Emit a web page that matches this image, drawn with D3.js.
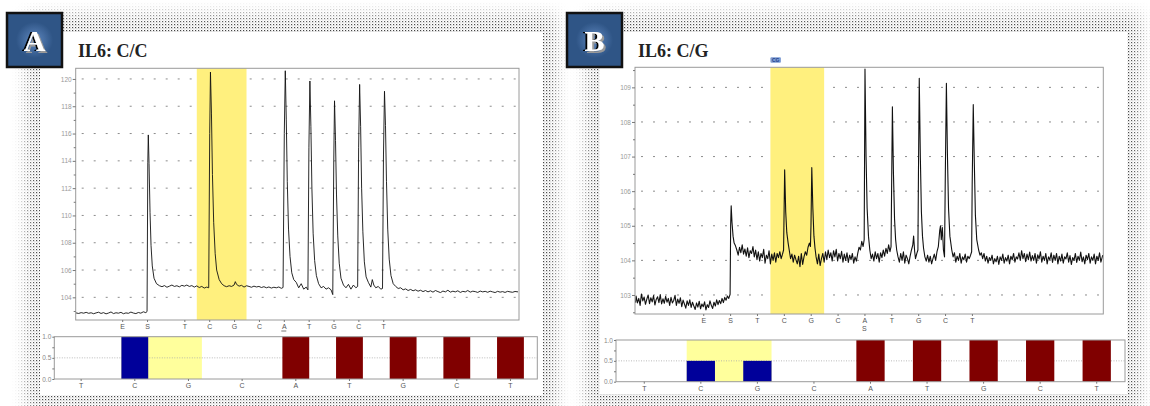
<!DOCTYPE html>
<html><head><meta charset="utf-8">
<script src="https://cdn.jsdelivr.net/npm/d3@7"></script>
<style>body{margin:0;background:#fff}svg{display:block}</style>
</head><body>
<svg id="c" width="1150" height="406"></svg>
<script>
// ---------------- DATA ----------------
const panelLetters = ["A", "B"];
const titles = ["IL6: C/C", "IL6: C/G"];
const dispLabels = ["E", "S", "T", "C", "G", "C", "A", "T", "G", "C", "T"];
const dispSubLabelsB = ["", "", "", "", "", "", "S", "", "", "", ""];
const dispPosA = [-2.5, -1.5, 0, 1, 2, 3, 4, 5, 6, 7, 8];
const dispPosB = [-2, -1, 0, 1, 2, 3, 4, 5, 6, 7, 8];
const variantBand = [0.5, 2.5];
const yTicksA = [104, 106, 108, 110, 112, 114, 116, 118, 120];
const yMinorA = [103, 105, 107, 109, 111, 113, 115, 117, 119];
const yTicksB = [103, 104, 105, 106, 107, 108, 109];
const yMinorB = [102.5, 103.5, 104.5, 105.5, 106.5, 107.5, 108.5, 109.5];
const snpLabelB = "CG";
const histCats = ["T", "C", "G", "C", "A", "T", "G", "C", "T"];
const histA = [0, 1, 0, 0, 1, 1, 1, 1, 1];
const histB = [0, 0.5, 0.5, 0, 1, 1, 1, 1, 1];
const histKind = ["ctl", "var", "var", "ctl", "ctl", "ctl", "ctl", "ctl", "ctl"];
const histYTicks = [0, 0.5, 1];

const traceA = [
[-4.36,102.86],[-4.25,102.82],[-4.15,102.88],[-4.05,102.84],[-3.95,102.9],[-3.85,102.83],[-3.75,102.87],[-3.65,102.8],[-3.55,102.86],[-3.45,102.91],[-3.35,102.82],[-3.25,102.88],[-3.15,102.79],[-3.05,102.85],[-2.95,102.93],[-2.85,102.81],[-2.75,102.87],[-2.65,102.84],[-2.55,102.9],[-2.45,102.8],[-2.35,102.86],[-2.25,102.83],[-2.15,102.92],[-2.05,102.85],[-1.95,102.81],[-1.85,102.89],[-1.75,102.84],[-1.65,102.94],[-1.55,102.88],[-1.5,102.96],
[-1.47,113.9],[-1.45,115.9],[-1.42,113.8],[-1.38,110.2],[-1.34,107.8],[-1.29,106.3],[-1.22,105.4],[-1.12,105.0],[-1.0,104.85],
[-0.9,104.78],[-0.8,104.86],[-0.7,104.74],[-0.6,104.82],[-0.5,104.9],[-0.4,104.8],[-0.3,104.85],[-0.2,104.77],[-0.1,104.88],[0,104.82],[0.1,104.9],[0.2,104.8],[0.3,104.86],[0.4,104.75],[0.5,104.84],[0.6,104.72],[0.7,104.8],[0.8,104.68],[0.9,104.75],[0.98,104.7],
[1.02,116.0],[1.05,120.5],[1.09,117.5],[1.13,113.0],[1.18,109.5],[1.24,107.2],[1.3,106.0],[1.4,105.3],[1.5,105.0],[1.6,104.85],
[1.7,104.78],[1.8,104.85],[1.9,104.8],[2.0,104.9],[2.05,105.15],[2.1,104.95],[2.2,104.82],[2.3,104.88],[2.4,104.75],[2.5,104.85],[2.6,104.8],[2.7,104.74],[2.8,104.82],[2.9,104.76],[3.0,104.8],[3.1,104.72],[3.2,104.78],[3.3,104.7],[3.4,104.76],[3.5,104.68],[3.6,104.74],[3.7,104.7],[3.8,104.76],[3.9,104.66],[3.97,104.72],
[4.02,116.0],[4.06,120.6],[4.1,117.0],[4.14,112.5],[4.19,109.0],[4.25,107.0],[4.32,105.8],[4.4,105.3],[4.5,105.1],[4.6,104.7],[4.7,105.0],[4.8,104.6],[4.9,104.75],[4.97,104.55],
[5.01,115.0],[5.05,119.85],[5.09,116.5],[5.13,112.0],[5.18,108.7],[5.24,106.7],[5.31,105.6],[5.4,105.0],[5.5,104.7],[5.6,104.8],[5.7,104.6],[5.8,104.7],[5.9,104.55],[5.97,104.2],
[6.01,114.0],[6.04,118.4],[6.08,115.5],[6.12,111.5],[6.17,108.5],[6.23,106.5],[6.3,105.4],[6.4,104.9],[6.5,104.7],[6.6,104.95],[6.7,104.6],[6.8,104.9],[6.9,104.7],[6.97,104.8],
[7.01,115.0],[7.05,119.6],[7.09,116.5],[7.13,112.0],[7.18,108.8],[7.24,106.6],[7.31,105.5],[7.4,105.1],[7.5,104.75],[7.56,105.3],[7.62,104.9],[7.7,104.7],[7.8,104.8],[7.9,104.6],[7.97,104.65],
[8.01,114.5],[8.05,119.1],[8.09,116.6],[8.13,112.5],[8.18,109.0],[8.24,106.8],[8.31,105.6],[8.4,105.0],[8.5,104.8],[8.6,104.65],
[8.7,104.7],[8.8,104.55],[8.9,104.62],[9.0,104.5],[9.1,104.58],[9.2,104.48],[9.3,104.55],[9.4,104.45],[9.5,104.52],[9.6,104.42],[9.7,104.5],[9.8,104.4],[9.9,104.48],[10.0,104.38],[10.1,104.5],[10.2,104.42],[10.3,104.35],[10.4,104.46],[10.5,104.4],[10.6,104.52],[10.7,104.38],[10.8,104.45],[10.9,104.4],[11.0,104.48],[11.1,104.36],[11.2,104.44],[11.3,104.4],[11.4,104.5],[11.5,104.38],[11.6,104.45],[11.7,104.42],[11.8,104.36],[11.9,104.46],[12.0,104.4],[12.1,104.44],[12.2,104.37],[12.3,104.45],[12.4,104.4],[12.5,104.35],[12.6,104.44],[12.7,104.38],[12.8,104.42],[12.9,104.36],[13.0,104.44],[13.1,104.4],[13.2,104.37],[13.3,104.43],[13.42,104.4]
];

const traceB = [
[-4.52,102.78],[-4.5,102.97],[-4.45,102.77],[-4.4,102.9],[-4.35,102.7],[-4.3,103.03],[-4.25,102.83],[-4.2,102.94],[-4.15,102.73],[-4.1,102.88],[-4.05,103.0],[-4.0,102.75],[-3.95,102.92],[-3.9,102.8],[-3.85,102.98],[-3.8,102.71],[-3.75,102.87],[-3.7,102.95],[-3.65,102.78],[-3.6,103.01],[-3.55,102.74],[-3.5,102.89],[-3.45,102.76],[-3.4,102.96],[-3.35,102.79],[-3.3,102.9],[-3.25,102.7],[-3.2,102.93],[-3.15,102.77],[-3.1,102.84],[-3.05,102.99],[-3.0,102.7],[-2.95,102.88],[-2.9,102.76],[-2.85,102.92],[-2.8,102.66],[-2.75,102.85],[-2.7,102.74],[-2.65,102.62],[-2.6,102.83],[-2.55,102.7],[-2.5,102.86],[-2.45,102.64],[-2.4,102.79],[-2.35,102.68],[-2.3,102.58],[-2.25,102.77],[-2.2,102.65],[-2.15,102.82],[-2.1,102.6],[-2.05,102.74],[-2.0,102.66],[-1.95,102.8],[-1.9,102.57],[-1.85,102.72],[-1.8,102.64],[-1.75,102.83],[-1.7,102.7],[-1.65,102.61],[-1.6,102.79],[-1.55,102.68],[-1.5,102.86],[-1.45,102.72],[-1.4,102.84],[-1.35,102.75],[-1.3,102.9],[-1.25,102.78],[-1.2,102.93],[-1.15,102.85],[-1.1,102.97],[-1.05,102.9],[-1.0,103.02],
[-0.98,105.0],[-0.96,105.58],[-0.93,105.1],[-0.89,104.7],[-0.85,104.5],
[-0.8,104.42],[-0.75,104.3],[-0.7,104.15],[-0.65,104.38],[-0.6,104.22],[-0.55,104.45],[-0.5,104.18],[-0.45,104.33],[-0.4,104.12],[-0.35,104.36],[-0.3,104.08],[-0.25,104.28],[-0.2,104.2],[-0.15,104.4],[-0.1,104.1],[-0.05,104.3],[0,104.02],[0.05,104.25],[0.1,103.98],[0.15,104.2],[0.2,104.08],[0.25,104.32],[0.3,103.92],[0.35,104.15],[0.4,104.05],[0.45,104.28],[0.5,103.9],[0.55,104.18],[0.6,104.0],[0.65,104.22],[0.7,103.95],[0.75,104.2],[0.8,104.08],[0.85,104.25],[0.9,104.05],[0.95,104.18],[0.99,104.3],
[1.03,106.62],[1.07,105.4],[1.11,104.8],[1.16,104.5],
[1.2,104.3],[1.25,104.05],[1.3,104.18],[1.35,103.95],[1.4,104.15],[1.45,104.02],[1.5,103.9],[1.55,104.12],[1.6,103.82],[1.65,104.2],[1.7,103.88],[1.75,104.1],[1.8,104.25],[1.85,104.15],[1.9,104.38],[1.95,104.5],[1.99,104.4],
[2.01,105.0],[2.04,106.68],[2.08,105.5],[2.12,104.7],[2.16,104.35],
[2.2,104.1],[2.25,103.9],[2.3,104.18],[2.35,103.85],[2.4,104.05],[2.45,104.2],[2.5,103.95],[2.55,104.25],[2.6,104.02],[2.65,104.3],[2.7,104.08],[2.75,104.22],[2.8,103.98],[2.85,104.28],[2.9,104.1],[2.95,104.32],[3.0,103.98],[3.05,104.2],[3.1,104.05],[3.15,104.26],[3.2,103.95],[3.25,104.18],[3.3,104.0],[3.35,104.22],[3.4,103.94],[3.45,104.15],[3.5,104.02],[3.55,104.2],[3.6,103.92],[3.65,104.1],[3.7,103.98],[3.75,104.2],[3.8,104.38],[3.85,104.3],[3.9,104.55],[3.95,104.4],[3.99,104.6],
[4.02,109.53],[4.06,107.0],[4.1,105.5],[4.15,104.7],
[4.2,104.3],[4.25,104.05],[4.3,104.18],[4.35,103.98],[4.4,104.25],[4.45,104.05],[4.5,104.2],[4.55,103.95],[4.6,104.22],[4.65,104.08],[4.7,104.3],[4.75,104.12],[4.8,104.35],[4.85,104.2],[4.9,104.45],[4.95,104.25],[4.99,104.4],
[5.01,106.0],[5.04,108.44],[5.08,106.5],[5.12,105.2],[5.16,104.6],
[5.2,104.3],[5.25,104.1],[5.3,103.95],[5.35,104.2],[5.4,104.0],[5.45,104.25],[5.5,103.92],[5.55,104.15],[5.6,104.05],[5.65,103.9],[5.7,104.12],[5.75,104.3],[5.8,104.45],[5.83,104.7],[5.87,104.25],[5.9,104.05],[5.95,104.2],[5.99,104.3],
[6.01,106.5],[6.04,109.26],[6.08,107.0],[6.12,105.4],[6.16,104.7],
[6.2,104.35],[6.25,104.1],[6.3,103.98],[6.35,104.15],[6.4,103.95],[6.45,104.12],[6.5,103.9],[6.55,104.05],[6.6,104.18],[6.65,104.0],[6.7,104.25],[6.75,104.4],[6.8,104.85],[6.83,105.0],[6.86,104.6],[6.9,104.95],[6.94,104.3],[6.98,104.1],
[7.01,106.5],[7.05,109.12],[7.09,107.0],[7.13,105.5],[7.18,104.7],
[7.25,104.3],[7.3,104.1],[7.35,104.22],[7.4,103.95],[7.45,104.12],[7.5,104.0],[7.55,104.2],[7.6,103.92],[7.65,104.1],[7.7,104.02],[7.75,104.18],[7.8,103.95],[7.85,104.12],[7.9,104.05],[7.95,104.15],[7.99,104.25],
[8.01,106.2],[8.05,108.5],[8.09,106.8],[8.13,105.3],[8.18,104.6],
[8.25,104.3],[8.3,104.15],[8.35,104.22],[8.4,104.05],[8.45,104.2],[8.5,103.98],[8.55,104.12],[8.6,103.92],[8.65,104.08],[8.7,104.0],[8.75,104.15],[8.8,103.9],[8.85,104.05],[8.9,103.96],[8.95,104.12],[9.0,103.88],[9.05,104.1],[9.1,104.0],[9.15,104.18],[9.2,103.92],[9.25,104.08],[9.3,103.98],[9.35,104.15],[9.4,103.9],[9.45,104.12],[9.5,104.02],[9.55,104.2],[9.6,103.95],[9.65,104.1],[9.7,104.04],[9.75,104.22],[9.8,104.0],[9.85,104.28],[9.9,104.05],[9.95,104.2],[10.0,103.96],[10.05,104.18],[10.1,104.02],[10.15,104.24],[10.2,103.98],[10.25,104.14],[10.3,104.0],[10.35,104.2],[10.4,103.92],[10.45,104.16],[10.5,104.04],[10.55,104.25],[10.6,103.95],[10.65,104.12],[10.7,104.0],[10.75,104.2],[10.8,103.9],[10.85,104.1],[10.9,104.02],[10.95,104.22],[11.0,103.94],[11.05,104.15],[11.1,104.0],[11.15,104.2],[11.2,103.9],[11.25,104.12],[11.3,103.98],[11.35,104.18],[11.4,103.92],[11.45,104.1],[11.5,104.04],[11.55,104.22],[11.6,103.95],[11.65,104.14],[11.7,103.88],[11.75,104.08],[11.8,104.0],[11.85,104.2],[11.9,103.94],[11.95,104.12],[12.0,104.0],[12.05,104.24],[12.1,103.96],[12.15,104.1],[12.2,103.9],[12.25,104.15],[12.3,104.02],[12.35,104.2],[12.4,103.92],[12.45,104.1],[12.5,104.0],[12.55,104.18],[12.6,103.9],[12.65,104.12],[12.7,104.0],[12.75,104.22],[12.8,103.95],[12.87,104.15]
];

// ---------------- DRAWING ----------------
const SANS = "'Liberation Sans', Arial, sans-serif";
const SERIF = "'Liberation Serif', 'Times New Roman', serif";
const svg = d3.select("#c");
const defs = svg.append("defs");

const pat = defs.append("pattern").attr("id", "stip").attr("patternUnits", "userSpaceOnUse")
  .attr("width", 3).attr("height", 3);
pat.append("rect").attr("width", 1.2).attr("height", 1.2).attr("fill", "#444");
pat.append("rect").attr("x", 1.5).attr("y", 1.5).attr("width", 0.9).attr("height", 0.9).attr("fill", "#999");

defs.append("filter").attr("id", "blur").attr("x", "-20%").attr("y", "-20%").attr("width", "140%").attr("height", "140%")
  .append("feGaussianBlur").attr("stdDeviation", 7);

// letter shadow filter for badges
const lsh = defs.append("filter").attr("id", "lsh").attr("x", "-40%").attr("y", "-40%").attr("width", "180%").attr("height", "180%");
lsh.append("feOffset").attr("in", "SourceAlpha").attr("dx", 2).attr("dy", 2).attr("result", "o1");
lsh.append("feFlood").attr("flood-color", "#9a9a9a").attr("result", "f1");
lsh.append("feComposite").attr("in", "f1").attr("in2", "o1").attr("operator", "in").attr("result", "g1");
lsh.append("feOffset").attr("in", "SourceAlpha").attr("dx", -2).attr("dy", -0.5).attr("result", "o2");
lsh.append("feFlood").attr("flood-color", "#000").attr("result", "f2");
lsh.append("feComposite").attr("in", "f2").attr("in2", "o2").attr("operator", "in").attr("result", "b1");
const mg = lsh.append("feMerge");
mg.append("feMergeNode").attr("in", "g1");
mg.append("feMergeNode").attr("in", "b1");
mg.append("feMergeNode").attr("in", "SourceGraphic");

const badgeGrad = defs.append("radialGradient").attr("id", "bgrad");
badgeGrad.append("stop").attr("offset", "0%").attr("stop-color", "#5f88c0");
badgeGrad.append("stop").attr("offset", "100%").attr("stop-color", "#2f5586");

function card(id, x0, y0, x1, y1) {
  const m = defs.append("mask").attr("id", "m" + id).attr("maskUnits", "userSpaceOnUse")
    .attr("x", 0).attr("y", 0).attr("width", 1150).attr("height", 406);
  m.append("rect").attr("x", x0 - 14).attr("y", y0 - 18).attr("width", x1 - x0 + 28).attr("height", y1 - y0 + 34)
    .attr("fill", "white").attr("filter", "url(#blur)");
  svg.append("rect").attr("x", x0 - 30).attr("y", y0 - 30).attr("width", x1 - x0 + 60).attr("height", y1 - y0 + 60)
    .attr("fill", "url(#stip)").attr("mask", `url(#m${id})`);
  svg.append("rect").attr("x", x0).attr("y", y0).attr("width", x1 - x0).attr("height", y1 - y0).attr("fill", "#fff");
}

function badge(x, y, letter) {
  const g = svg.append("g").attr("transform", `translate(${x},${y})`);
  g.append("rect").attr("width", 55).attr("height", 54).attr("fill", "#2f5586").attr("stroke", "#111").attr("stroke-width", 2.5);
  g.append("rect").attr("x", 9).attr("y", 9).attr("width", 37).attr("height", 36).attr("fill", "url(#bgrad)");
  g.append("text").attr("x", 27.5).attr("y", 38).attr("text-anchor", "middle")
    .attr("font-family", SERIF).attr("font-weight", "bold").attr("font-size", 30).attr("fill", "#fff")
    .attr("filter", "url(#lsh)").text(letter);
}

function tracePanel(cfg) {
  const x = d3.scaleLinear().domain(cfg.xDom).range([cfg.l, cfg.r]);
  const y = d3.scaleLinear().domain(cfg.yDom).range([cfg.b, cfg.t]);
  const g = svg.append("g");
  g.append("g").selectAll("line").data(cfg.yTicks).join("line")
    .attr("x1", cfg.l + 6).attr("x2", cfg.r - 2).attr("y1", d => y(d)).attr("y2", d => y(d))
    .attr("stroke", "#8c8c8c").attr("stroke-width", 1).attr("stroke-dasharray", "2,10");
  g.append("rect").attr("x", x(variantBand[0])).attr("width", x(variantBand[1]) - x(variantBand[0]))
    .attr("y", cfg.t).attr("height", cfg.b - cfg.t).attr("fill", "#fff07e");
  g.append("path").datum(cfg.trace)
    .attr("d", d3.line().x(d => x(d[0])).y(d => y(d[1])))
    .attr("fill", "none").attr("stroke", "#111").attr("stroke-width", cfg.sw).attr("stroke-linejoin", "round");
  g.append("rect").attr("x", cfg.l).attr("y", cfg.t).attr("width", cfg.r - cfg.l).attr("height", cfg.b - cfg.t)
    .attr("fill", "none").attr("stroke", "#9a9a9a").attr("stroke-width", 1);
  const ya = g.append("g").attr("transform", `translate(${cfg.l},0)`)
    .call(d3.axisLeft(y).tickValues(cfg.yTicks).tickSize(3).tickPadding(1).tickFormat(d3.format("d")));
  const ym = g.append("g").attr("transform", `translate(${cfg.l},0)`)
    .call(d3.axisLeft(y).tickValues(cfg.yMinor.filter(v => v > cfg.yDom[0] && v < cfg.yDom[1])).tickSize(2).tickFormat(""));
  [ya, ym].forEach(a => {
    a.select(".domain").remove();
    a.selectAll("line").attr("stroke", "#777");
  });
  ya.selectAll("text").attr("font-family", SANS).attr("font-size", 6.5).attr("fill", "#999");
  const xa = g.append("g").attr("transform", `translate(0,${cfg.b})`)
    .call(d3.axisBottom(x).tickValues(cfg.dispPos).tickSize(2).tickPadding(2).tickFormat((d, i) => dispLabels[i]));
  xa.select(".domain").remove();
  xa.selectAll("line").attr("stroke", "#777");
  xa.selectAll("text").attr("font-family", SANS).attr("font-size", 7).attr("fill", "#555");
  if (cfg.sub) {
    g.append("g").selectAll("text").data(cfg.dispPos).join("text")
      .attr("x", d => x(d)).attr("y", cfg.b + 17).attr("text-anchor", "middle")
      .attr("font-family", SANS).attr("font-size", 7).attr("fill", "#555")
      .text((d, i) => cfg.sub[i]);
  }
  if (cfg.underline !== undefined) {
    const px = x(cfg.dispPos[cfg.underline]);
    g.append("line").attr("x1", px - 2.5).attr("x2", px + 2.5).attr("y1", cfg.b + 11).attr("y2", cfg.b + 11)
      .attr("stroke", "#555").attr("stroke-width", 0.8);
  }
  if (cfg.snp) {
    g.append("rect").attr("x", x(variantBand[0])).attr("y", cfg.t - 10).attr("width", 10.5).attr("height", 5.5)
      .attr("rx", 1).attr("fill", "#7f9dd3");
    g.append("text").attr("x", x(variantBand[0]) + 5.25).attr("y", cfg.t - 5.6).attr("text-anchor", "middle")
      .attr("font-family", SANS).attr("font-size", 5).attr("font-weight", "bold").attr("fill", "#1d3e8c").text(cfg.snp);
  }
}

function histPanel(cfg) {
  const x = d3.scaleBand().domain(d3.range(histCats.length)).range([cfg.l, cfg.r]).paddingInner(0.5).paddingOuter(0.25);
  const y = d3.scaleLinear().domain([0, 1]).range([cfg.b, cfg.t]);
  const g = svg.append("g");
  const vi = histKind.map((k, i) => k === "var" ? i : -1).filter(i => i >= 0);
  const hx0 = x(vi[0]), hx1 = x(vi[vi.length - 1]) + x.bandwidth();
  g.append("rect").attr("x", hx0).attr("width", hx1 - hx0).attr("y", cfg.t).attr("height", cfg.b - cfg.t).attr("fill", "#ffff9c");
  g.append("line").attr("x1", cfg.l).attr("x2", cfg.r).attr("y1", y(0.5)).attr("y2", y(0.5))
    .attr("stroke", "#aaa").attr("stroke-width", 0.8).attr("stroke-dasharray", "1,1.5");
  g.append("g").selectAll("rect").data(cfg.vals).join("rect")
    .attr("x", (d, i) => x(i)).attr("width", x.bandwidth())
    .attr("y", d => y(d)).attr("height", d => y(0) - y(d))
    .attr("fill", (d, i) => histKind[i] === "var" ? "#00009a" : "#800000");
  g.append("rect").attr("x", cfg.l).attr("y", cfg.t).attr("width", cfg.r - cfg.l).attr("height", cfg.b - cfg.t)
    .attr("fill", "none").attr("stroke", "#9a9a9a").attr("stroke-width", 1);
  const ya = g.append("g").attr("transform", `translate(${cfg.l},0)`)
    .call(d3.axisLeft(y).tickValues(histYTicks).tickSize(2).tickPadding(1).tickFormat(d3.format(".1f")));
  const ym = g.append("g").attr("transform", `translate(${cfg.l},0)`)
    .call(d3.axisLeft(y).tickValues([0.25, 0.75]).tickSize(2).tickFormat(""));
  [ya, ym].forEach(a => { a.select(".domain").remove(); a.selectAll("line").attr("stroke", "#777"); });
  ya.selectAll("text").attr("font-family", SANS).attr("font-size", 6.5).attr("fill", "#888");
  const xa = g.append("g").attr("transform", `translate(0,${cfg.b})`)
    .call(d3.axisBottom(x).tickSize(2).tickPadding(2).tickFormat(i => histCats[i]));
  xa.select(".domain").remove();
  xa.selectAll("line").attr("stroke", "#777");
  xa.selectAll("text").attr("font-family", SANS).attr("font-size", 7).attr("fill", "#555");
}

// cards and badges
card("A", 40, 32, 543, 395);
card("B", 600, 32, 1127, 394);
badge(7, 13, panelLetters[0]);
badge(567, 13, panelLetters[1]);

svg.append("text").attr("x", 78).attr("y", 57).attr("font-family", SERIF).attr("font-weight", "bold")
  .attr("font-size", 18).attr("fill", "#222").text(titles[0]);
svg.append("text").attr("x", 638).attr("y", 57).attr("font-family", SERIF).attr("font-weight", "bold")
  .attr("font-size", 18).attr("fill", "#222").text(titles[1]);

tracePanel({ l: 75.7, r: 519, t: 68.3, b: 320, xDom: [-4.37, 13.46], yDom: [102.34, 120.78],
  yTicks: yTicksA, yMinor: yMinorA, dispPos: dispPosA, trace: traceA, sw: 0.9, underline: 6 });
tracePanel({ l: 635, r: 1103.3, t: 67.3, b: 314, xDom: [-4.54, 12.89], yDom: [102.45, 109.58],
  yTicks: yTicksB, yMinor: yMinorB, dispPos: dispPosB, trace: traceB, sw: 1.1, sub: dispSubLabelsB, snp: snpLabelB });

histPanel({ l: 54.3, r: 537.3, t: 336.7, b: 379, vals: histA });
histPanel({ l: 616, r: 1125, t: 340, b: 381.7, vals: histB });
</script>
</body></html>
